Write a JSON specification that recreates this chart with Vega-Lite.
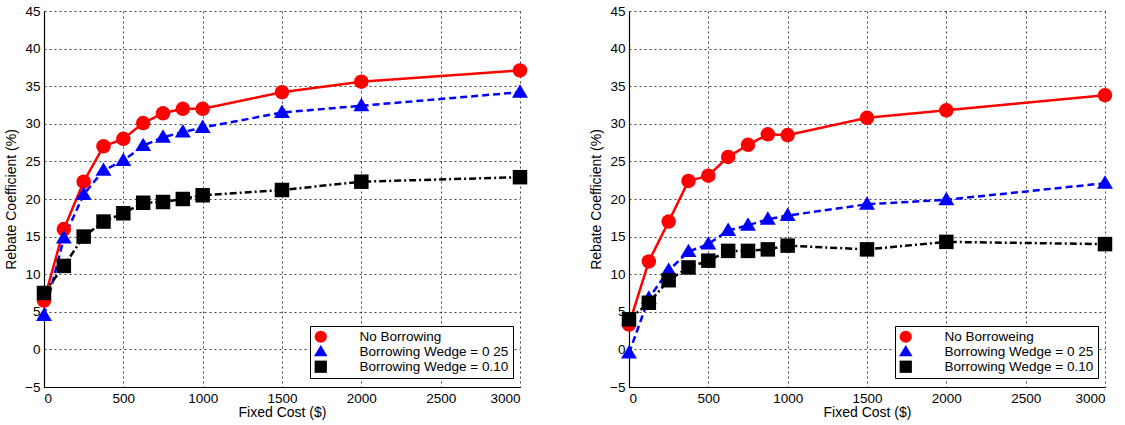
{
  "$schema": "https://vega.github.io/schema/vega-lite/v6.json",
  "padding": {"top": 4, "left": 4, "right": 5, "bottom": 3},
  "spacing": 61,
  "config": {
    "font": "Liberation Sans",
    "view": {"stroke": null},
    "axis": {
      "domainColor": "#000000",
      "domainWidth": 1.2,
      "ticks": false,
      "labelPadding": 4,
      "labelColor": "#000000",
      "labelFontSize": 13.5,
      "titleFontSize": 14,
      "titleFontWeight": "normal",
      "titleColor": "#000000",
      "gridColor": "#000000",
      "gridDash": [2, 3],
      "gridOpacity": 0.75,
      "gridWidth": 1
    }
  },
  "hconcat": [
    {
      "width": 476,
      "height": 376,
      "data": {"values": [
        {"cost": 0, "rebate": 6.5, "series": "No Borrowing"},
        {"cost": 125, "rebate": 16, "series": "No Borrowing"},
        {"cost": 250, "rebate": 22.3, "series": "No Borrowing"},
        {"cost": 375, "rebate": 27, "series": "No Borrowing"},
        {"cost": 500, "rebate": 28, "series": "No Borrowing"},
        {"cost": 625, "rebate": 30.1, "series": "No Borrowing"},
        {"cost": 750, "rebate": 31.4, "series": "No Borrowing"},
        {"cost": 875, "rebate": 32, "series": "No Borrowing"},
        {"cost": 1000, "rebate": 32, "series": "No Borrowing"},
        {"cost": 1500, "rebate": 34.2, "series": "No Borrowing"},
        {"cost": 2000, "rebate": 35.6, "series": "No Borrowing"},
        {"cost": 3000, "rebate": 37.1, "series": "No Borrowing"},
        {"cost": 0, "rebate": 4.5, "series": "Borrowing Wedge = 0 25"},
        {"cost": 125, "rebate": 14.8, "series": "Borrowing Wedge = 0 25"},
        {"cost": 250, "rebate": 20.6, "series": "Borrowing Wedge = 0 25"},
        {"cost": 375, "rebate": 23.8, "series": "Borrowing Wedge = 0 25"},
        {"cost": 500, "rebate": 25.1, "series": "Borrowing Wedge = 0 25"},
        {"cost": 625, "rebate": 27.1, "series": "Borrowing Wedge = 0 25"},
        {"cost": 750, "rebate": 28.2, "series": "Borrowing Wedge = 0 25"},
        {"cost": 875, "rebate": 28.9, "series": "Borrowing Wedge = 0 25"},
        {"cost": 1000, "rebate": 29.5, "series": "Borrowing Wedge = 0 25"},
        {"cost": 1500, "rebate": 31.5, "series": "Borrowing Wedge = 0 25"},
        {"cost": 2000, "rebate": 32.4, "series": "Borrowing Wedge = 0 25"},
        {"cost": 3000, "rebate": 34.2, "series": "Borrowing Wedge = 0 25"},
        {"cost": 0, "rebate": 7.5, "series": "Borrowing Wedge = 0.10"},
        {"cost": 125, "rebate": 11.1, "series": "Borrowing Wedge = 0.10"},
        {"cost": 250, "rebate": 15, "series": "Borrowing Wedge = 0.10"},
        {"cost": 375, "rebate": 17, "series": "Borrowing Wedge = 0.10"},
        {"cost": 500, "rebate": 18.1, "series": "Borrowing Wedge = 0.10"},
        {"cost": 625, "rebate": 19.5, "series": "Borrowing Wedge = 0.10"},
        {"cost": 750, "rebate": 19.6, "series": "Borrowing Wedge = 0.10"},
        {"cost": 875, "rebate": 20, "series": "Borrowing Wedge = 0.10"},
        {"cost": 1000, "rebate": 20.5, "series": "Borrowing Wedge = 0.10"},
        {"cost": 1500, "rebate": 21.2, "series": "Borrowing Wedge = 0.10"},
        {"cost": 2000, "rebate": 22.3, "series": "Borrowing Wedge = 0.10"},
        {"cost": 3000, "rebate": 22.9, "series": "Borrowing Wedge = 0.10"}
      ]},
      "encoding": {
        "x": {"field": "cost", "type": "quantitative", "scale": {"domain": [0, 3000], "nice": false},
              "axis": {"values": [0, 500, 1000, 1500, 2000, 2500, 3000], "format": "d", "title": "Fixed Cost ($)", "titlePadding": 1}},
        "y": {"field": "rebate", "type": "quantitative", "scale": {"domain": [-5, 45], "nice": false},
              "axis": {"values": [-5, 0, 5, 10, 15, 20, 25, 30, 35, 40, 45], "title": "Rebate Coefficient (%)", "titlePadding": 6}},
        "color": {"field": "series", "type": "nominal",
          "scale": {"domain": ["No Borrowing", "Borrowing Wedge = 0 25", "Borrowing Wedge = 0.10"], "range": ["#ff0000", "#0000ff", "#000000"]},
          "legend": {"orient": "none", "legendX": 266, "legendY": 315, "title": null, "strokeColor": "#000000", "fillColor": "#ffffff", "padding": 4, "labelFontSize": 13.5, "labelColor": "#000000", "symbolSize": 150, "symbolStrokeWidth": 0, "labelOffset": 32, "rowPadding": 0, "symbolOpacity": 1}},
        "shape": {"field": "series", "type": "nominal",
          "scale": {"domain": ["No Borrowing", "Borrowing Wedge = 0 25", "Borrowing Wedge = 0.10"], "range": ["circle", "M-1.1,0.75L1.1,0.75L0,-1.1Z", "square"]},
          "legend": {"orient": "none", "legendX": 266, "legendY": 315, "title": null, "strokeColor": "#000000", "fillColor": "#ffffff", "padding": 4, "labelFontSize": 13.5, "labelColor": "#000000", "symbolSize": 150, "symbolStrokeWidth": 0, "labelOffset": 32, "rowPadding": 0, "symbolOpacity": 1}}
      },
      "layer": [
        {"mark": {"type": "line", "strokeWidth": 2.5},
         "encoding": {
           "strokeDash": {"field": "series", "type": "nominal",
           "scale": {"domain": ["No Borrowing", "Borrowing Wedge = 0 25", "Borrowing Wedge = 0.10"], "range": [[1, 0], [7, 4], [7, 3, 2, 3]]}, "legend": null}}},
        {"mark": {"type": "point", "filled": true, "size": 210, "opacity": 1}}
      ]
    },
    {
      "width": 476,
      "height": 376,
      "data": {"values": [
        {"cost": 0, "rebate": 3.3, "series": "No Borroweing"},
        {"cost": 125, "rebate": 11.7, "series": "No Borroweing"},
        {"cost": 250, "rebate": 17, "series": "No Borroweing"},
        {"cost": 375, "rebate": 22.4, "series": "No Borroweing"},
        {"cost": 500, "rebate": 23.1, "series": "No Borroweing"},
        {"cost": 625, "rebate": 25.6, "series": "No Borroweing"},
        {"cost": 750, "rebate": 27.2, "series": "No Borroweing"},
        {"cost": 875, "rebate": 28.6, "series": "No Borroweing"},
        {"cost": 1000, "rebate": 28.5, "series": "No Borroweing"},
        {"cost": 1500, "rebate": 30.8, "series": "No Borroweing"},
        {"cost": 2000, "rebate": 31.8, "series": "No Borroweing"},
        {"cost": 3000, "rebate": 33.8, "series": "No Borroweing"},
        {"cost": 0, "rebate": -0.5, "series": "Borrowing Wedge = 0 25"},
        {"cost": 125, "rebate": 6.8, "series": "Borrowing Wedge = 0 25"},
        {"cost": 250, "rebate": 10.5, "series": "Borrowing Wedge = 0 25"},
        {"cost": 375, "rebate": 13, "series": "Borrowing Wedge = 0 25"},
        {"cost": 500, "rebate": 14, "series": "Borrowing Wedge = 0 25"},
        {"cost": 625, "rebate": 15.8, "series": "Borrowing Wedge = 0 25"},
        {"cost": 750, "rebate": 16.5, "series": "Borrowing Wedge = 0 25"},
        {"cost": 875, "rebate": 17.3, "series": "Borrowing Wedge = 0 25"},
        {"cost": 1000, "rebate": 17.8, "series": "Borrowing Wedge = 0 25"},
        {"cost": 1500, "rebate": 19.3, "series": "Borrowing Wedge = 0 25"},
        {"cost": 2000, "rebate": 19.9, "series": "Borrowing Wedge = 0 25"},
        {"cost": 3000, "rebate": 22.1, "series": "Borrowing Wedge = 0 25"},
        {"cost": 0, "rebate": 4, "series": "Borrowing Wedge = 0.10"},
        {"cost": 125, "rebate": 6.2, "series": "Borrowing Wedge = 0.10"},
        {"cost": 250, "rebate": 9.2, "series": "Borrowing Wedge = 0.10"},
        {"cost": 375, "rebate": 10.9, "series": "Borrowing Wedge = 0.10"},
        {"cost": 500, "rebate": 11.8, "series": "Borrowing Wedge = 0.10"},
        {"cost": 625, "rebate": 13.1, "series": "Borrowing Wedge = 0.10"},
        {"cost": 750, "rebate": 13.1, "series": "Borrowing Wedge = 0.10"},
        {"cost": 875, "rebate": 13.3, "series": "Borrowing Wedge = 0.10"},
        {"cost": 1000, "rebate": 13.8, "series": "Borrowing Wedge = 0.10"},
        {"cost": 1500, "rebate": 13.3, "series": "Borrowing Wedge = 0.10"},
        {"cost": 2000, "rebate": 14.3, "series": "Borrowing Wedge = 0.10"},
        {"cost": 3000, "rebate": 14, "series": "Borrowing Wedge = 0.10"}
      ]},
      "encoding": {
        "x": {"field": "cost", "type": "quantitative", "scale": {"domain": [0, 3000], "nice": false},
              "axis": {"values": [0, 500, 1000, 1500, 2000, 2500, 3000], "format": "d", "title": "Fixed Cost ($)", "titlePadding": 1}},
        "y": {"field": "rebate", "type": "quantitative", "scale": {"domain": [-5, 45], "nice": false},
              "axis": {"values": [-5, 0, 5, 10, 15, 20, 25, 30, 35, 40, 45], "title": "Rebate Coefficient (%)", "titlePadding": 6}},
        "color": {"field": "series", "type": "nominal",
          "scale": {"domain": ["No Borroweing", "Borrowing Wedge = 0 25", "Borrowing Wedge = 0.10"], "range": ["#ff0000", "#0000ff", "#000000"]},
          "legend": {"orient": "none", "legendX": 266, "legendY": 315, "title": null, "strokeColor": "#000000", "fillColor": "#ffffff", "padding": 4, "labelFontSize": 13.5, "labelColor": "#000000", "symbolSize": 150, "symbolStrokeWidth": 0, "labelOffset": 32, "rowPadding": 0, "symbolOpacity": 1}},
        "shape": {"field": "series", "type": "nominal",
          "scale": {"domain": ["No Borroweing", "Borrowing Wedge = 0 25", "Borrowing Wedge = 0.10"], "range": ["circle", "M-1.1,0.75L1.1,0.75L0,-1.1Z", "square"]},
          "legend": {"orient": "none", "legendX": 266, "legendY": 315, "title": null, "strokeColor": "#000000", "fillColor": "#ffffff", "padding": 4, "labelFontSize": 13.5, "labelColor": "#000000", "symbolSize": 150, "symbolStrokeWidth": 0, "labelOffset": 32, "rowPadding": 0, "symbolOpacity": 1}}
      },
      "layer": [
        {"mark": {"type": "line", "strokeWidth": 2.5},
         "encoding": {
           "strokeDash": {"field": "series", "type": "nominal",
           "scale": {"domain": ["No Borroweing", "Borrowing Wedge = 0 25", "Borrowing Wedge = 0.10"], "range": [[1, 0], [7, 4], [7, 3, 2, 3]]}, "legend": null}}},
        {"mark": {"type": "point", "filled": true, "size": 210, "opacity": 1}}
      ]
    }
  ],
  "resolve": {"scale": {"color": "independent", "shape": "independent", "strokeDash": "independent"}}
}
